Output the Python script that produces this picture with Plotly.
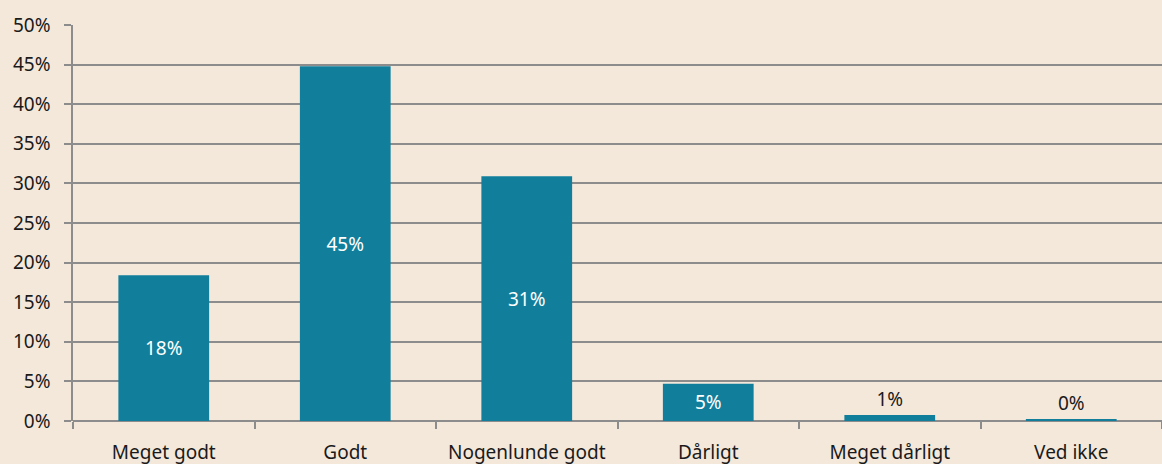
import plotly.graph_objects as go

categories = ["Meget godt", "Godt", "Nogenlunde godt", "Dårligt", "Meget dårligt", "Ved ikke"]
values = [0.184, 0.448, 0.309, 0.047, 0.0075, 0.0025]
y_ticks = [0, 0.05, 0.10, 0.15, 0.20, 0.25, 0.30, 0.35, 0.40, 0.45, 0.50]

bg = "#F4E8DB"
bar_color = "#117F9C"
grid = "#8C8C8C"
font_family = "Noto Sans, Open Sans, sans-serif"
fs = 19

text_pos = ["inside", "inside", "inside", "inside", "outside", "outside"]
text_col = ["white", "white", "white", "white", "#1a1a1a", "#1a1a1a"]

fig = go.Figure(go.Bar(
    x=categories, y=values,
    marker=dict(color=bar_color, line=dict(width=0)),
    texttemplate="%{y:.0%}",
    textposition=text_pos,
    insidetextanchor="middle",
    textfont=dict(color=text_col, size=fs, family=font_family),
    cliponaxis=False,
    hoverinfo="skip",
))

fig.update_layout(
    width=1162, height=464,
    margin=dict(l=73, r=0, t=25, b=43, autoexpand=False),
    paper_bgcolor=bg, plot_bgcolor=bg,
    bargap=0.5,
    showlegend=False,
    font=dict(family=font_family, size=fs, color="#1a1a1a"),
)
fig.update_xaxes(
    showgrid=False, showline=False,
    tickson="boundaries", ticks="outside", ticklen=7, tickwidth=1.5, tickcolor=grid,
    ticklabelstandoff=18,
    tickfont=dict(size=fs), automargin=False,
)
fig.update_yaxes(
    range=[0, 0.5], tickvals=y_ticks, tickformat=".0%",
    showgrid=True, gridcolor=grid, gridwidth=1.5,
    showline=True, linecolor=grid, linewidth=1.5,
    ticks="outside", ticklen=7, tickwidth=1.5, tickcolor=grid,
    ticklabelstandoff=10,
    zeroline=True, zerolinecolor=grid, zerolinewidth=1.5,
    tickfont=dict(size=fs), automargin=False,
)

fig.write_html("out.html", config={"displayModeBar": False},
               post_script="document.body.style.margin='0';document.body.style.overflow='hidden';")
